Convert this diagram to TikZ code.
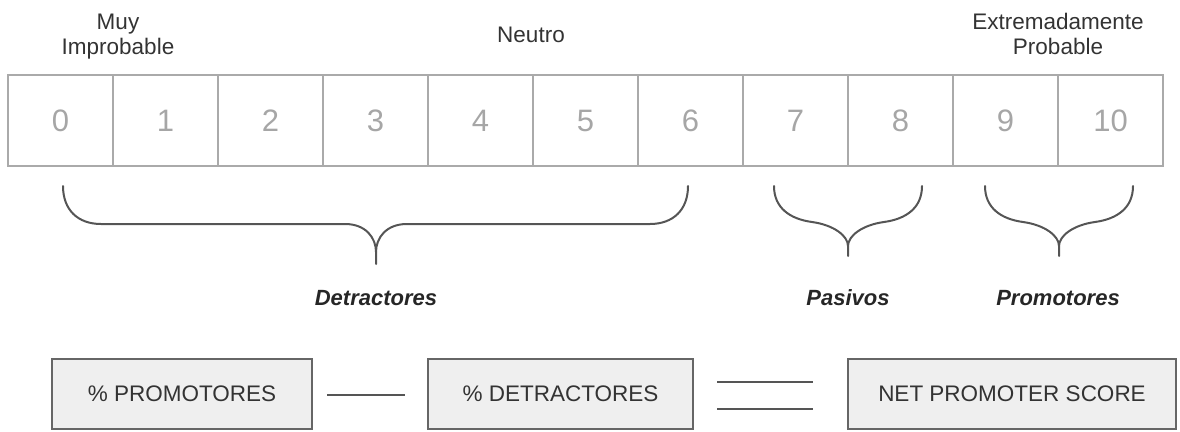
\documentclass[tikz,border=0pt]{standalone}
\usepackage{fontspec}
\setmainfont{Liberation Sans}
\definecolor{cellgray}{HTML}{AAAAAA}
\definecolor{numgray}{HTML}{A6A6A6}
\definecolor{txt}{HTML}{333333}
\definecolor{brace}{HTML}{555555}
\definecolor{boxline}{HTML}{666666}
\definecolor{boxfill}{HTML}{EFEFEF}
\begin{document}
\begin{tikzpicture}[x=1pt,y=-1pt,
  cell/.style={draw=cellgray,line width=2pt,minimum width=105pt,minimum height=91pt,inner sep=0pt,outer sep=0pt,
    text=numgray,font=\fontsize{31}{34}\selectfont},
  lab/.style={anchor=base,inner sep=0pt,text=txt,font=\fontsize{22.5}{25}\selectfont},
  grp/.style={anchor=base,inner sep=0pt,text=black!85,font=\fontsize{22}{25}\selectfont\bfseries\itshape},
  bracepath/.style={draw=brace,line width=2pt,line cap=round,line join=round},
  formbox/.style={draw=boxline,fill=boxfill,line width=2pt,minimum height=70pt,inner sep=0pt,
    text=txt,font=\fontsize{22.5}{25}\selectfont},
  opline/.style={draw=brace,line width=2pt}]
\useasboundingbox (0,0) rectangle (1180,431);
% top labels
\node[lab] (muy1) at (118,29) {Muy};
\node[lab] (muy2) at (118,54) {Improbable};
\node[lab] (neutro) at (531,42) {Neutro};
\node[lab] (ext1) at (1058,29) {Extremadamente};
\node[lab] (ext2) at (1058,54) {Probable};
% scale cells
\foreach \i in {0,...,10}{
  \node[cell] (c\i) at ({8+105*\i+52.5},120.5) {\i};
}
% braces
\path[bracepath] (63,186) .. controls (63,210) and (78,224) .. (101,224)
  -- (345,224) .. controls (366,224) and (376,238) .. (376,252) -- (376,264);
\path[bracepath] (376,252) .. controls (376,238) and (386,224) .. (407,224)
  -- (650,224) .. controls (673,224) and (688,210) .. (688,186);
\path[bracepath] (774,186) .. controls (774,208) and (790,219) .. (812,222)
  .. controls (834,225) and (848,236) .. (848,246) -- (848,256);
\path[bracepath] (848,246) .. controls (848,236) and (862,225) .. (884,222)
  .. controls (906,219) and (922,208) .. (922,186);
\path[bracepath] (985,186) .. controls (985,208) and (1001,219) .. (1023,222)
  .. controls (1045,225) and (1059,236) .. (1059,246) -- (1059,256);
\path[bracepath] (1059,246) .. controls (1059,236) and (1073,225) .. (1095,222)
  .. controls (1117,219) and (1133,208) .. (1133,186);
% group labels
\node[grp] (det) at (376,305) {Detractores};
\node[grp] (pas) at (848,305) {Pasivos};
\node[grp] (pro) at (1058,305) {Promotores};
% formula
\node[formbox,minimum width=260pt] (bp) at (182,394) {\% PROMOTORES};
\node[formbox,minimum width=265pt] (bd) at (560.5,394) {\% DETRACTORES};
\node[formbox,minimum width=328pt] (bn) at (1012,394) {NET PROMOTER SCORE};
\coordinate (m1) at (327,395); \coordinate (m2) at (405,395);
\coordinate (e1) at (717,382); \coordinate (e2) at (813,382);
\coordinate (e3) at (717,409); \coordinate (e4) at (813,409);
\path[opline] (m1) -- (m2);
\path[opline] (e1) -- (e2);
\path[opline] (e3) -- (e4);
\end{tikzpicture}
\end{document}
